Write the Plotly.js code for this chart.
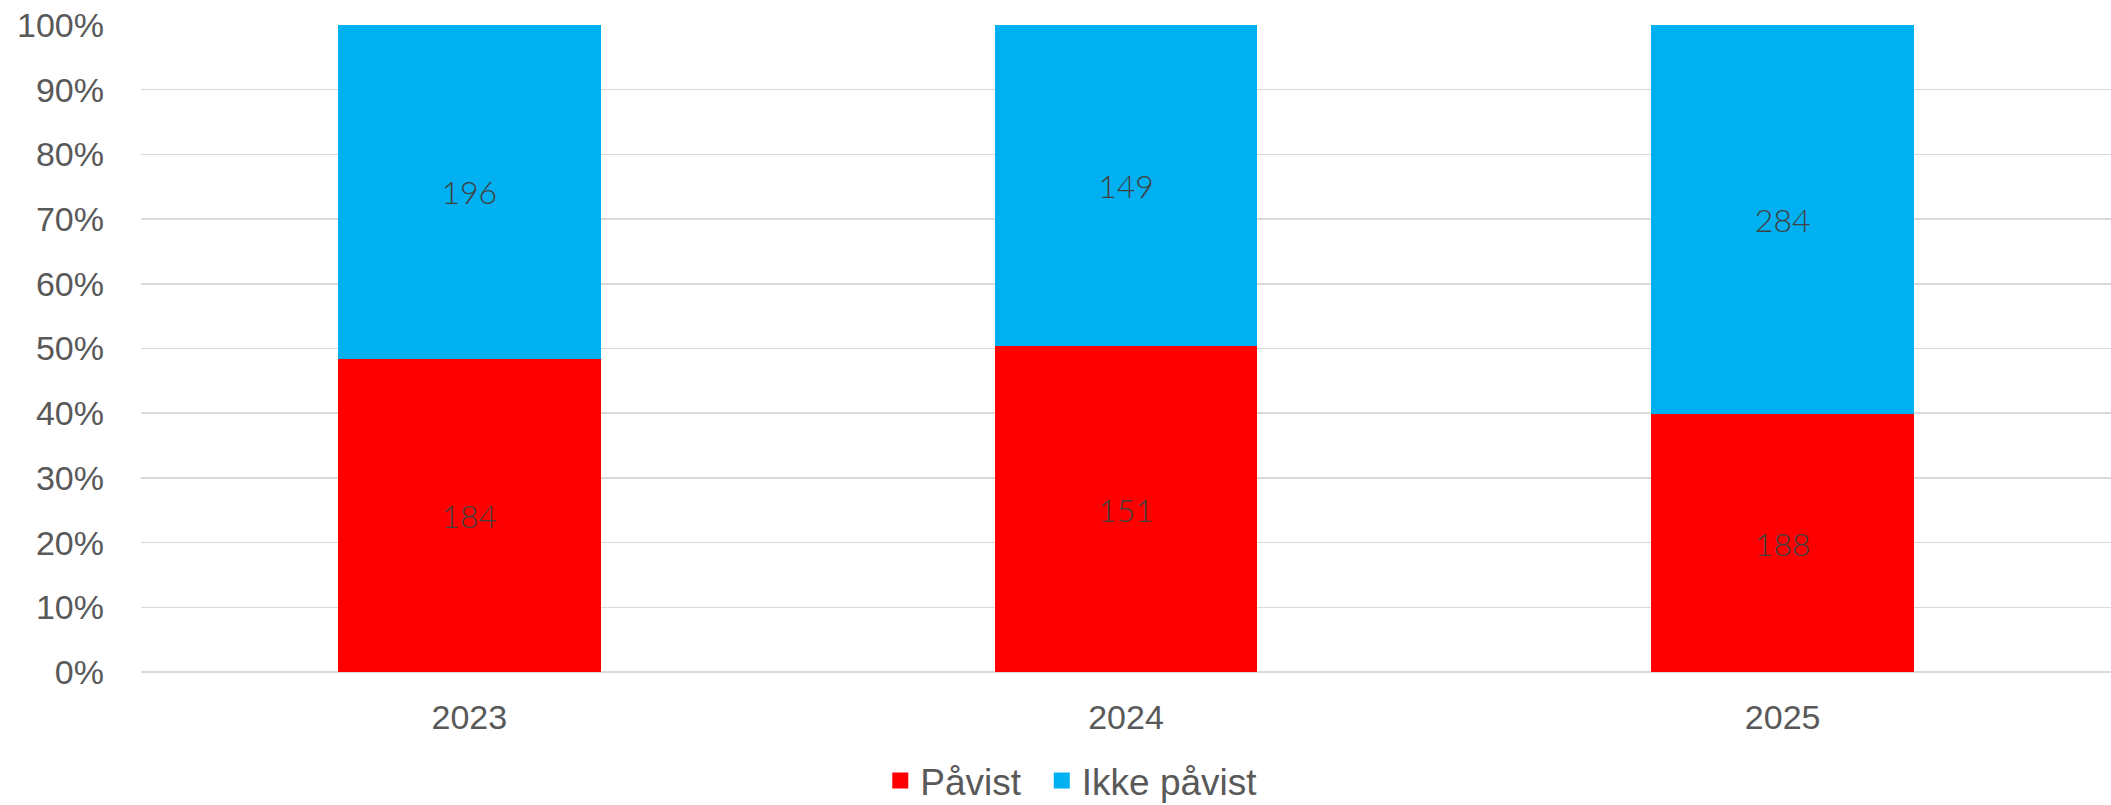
<!DOCTYPE html>
<html>
<head>
<meta charset="utf-8">
<script src="https://cdn.plot.ly/plotly-3.0.1.min.js"></script>
<style>html,body{margin:0;padding:0;background:#fff;}#chart{width:2111px;height:805px;}</style>
</head>
<body>
<div id="chart"></div>
<script>
const years = ['2023', '2024', '2025'];
const pavist = [184, 151, 188];
const ikkePavist = [196, 149, 284];
const seriesNames = ['Påvist', 'Ikke påvist'];
const seriesColors = ['#ff0000', '#00b0f0'];

const labelFont = {family: 'Lato, Roboto, sans-serif', size: 32, color: '#404040', weight: 300};

const traces = [pavist, ikkePavist].map((vals, i) => ({
  type: 'bar',
  name: seriesNames[i],
  x: years,
  y: vals,
  text: vals.map(String),
  texttemplate: '%{text}',
  textposition: 'inside',
  insidetextanchor: 'middle',
  textangle: 0,
  textfont: labelFont,
  marker: {color: seriesColors[i], line: {width: 0}},
  showlegend: false,
  legendgroup: 'g' + i,
  hoverinfo: 'skip'
}));

// legend entries with larger square swatches, one legend box per series
const legendIds = ['legend', 'legend2'];
seriesNames.forEach((name, i) => {
  traces.push({
    type: 'scatter',
    mode: 'markers',
    name: name,
    x: [null],
    y: [null],
    legend: legendIds[i],
    legendgroup: 'g' + i,
    marker: {symbol: 'square', size: 18, color: seriesColors[i]},
    hoverinfo: 'skip'
  });
});

const legendBase = {
  orientation: 'h',
  xref: 'container',
  xanchor: 'left',
  yref: 'container',
  y: 0.03,
  yanchor: 'middle',
  font: {size: 37, color: '#595959'},
  itemwidth: 30,
  bgcolor: 'rgba(0,0,0,0)'
};

const layout = {
  width: 2111,
  height: 805,
  barmode: 'stack',
  barnorm: 'percent',
  bargap: 0.6,
  paper_bgcolor: '#ffffff',
  plot_bgcolor: '#ffffff',
  margin: {l: 141, r: 0, t: 25, b: 133},
  font: {family: 'Liberation Sans, Arial, sans-serif', color: '#595959', size: 34},
  xaxis: {
    type: 'category',
    categoryorder: 'array',
    categoryarray: years,
    showgrid: false,
    showline: false,
    ticks: '',
    tickfont: {size: 34, color: '#595959'},
    ticklabelstandoff: 22
  },
  yaxis: {
    range: [0, 100],
    dtick: 10,
    ticksuffix: '%',
    showgrid: true,
    gridcolor: '#d9d9d9',
    gridwidth: 1.5,
    zeroline: true,
    zerolinecolor: '#d9d9d9',
    zerolinewidth: 1.5,
    showline: false,
    ticks: '',
    tickfont: {size: 34, color: '#595959'},
    ticklabelstandoff: 36
  },
  showlegend: true,
  legend: Object.assign({}, legendBase, {x: 0.417}),
  legend2: Object.assign({}, legendBase, {x: 0.4935})
};

Plotly.newPlot('chart', traces, layout, {displayModeBar: false, staticPlot: true});
</script>
</body>
</html>
